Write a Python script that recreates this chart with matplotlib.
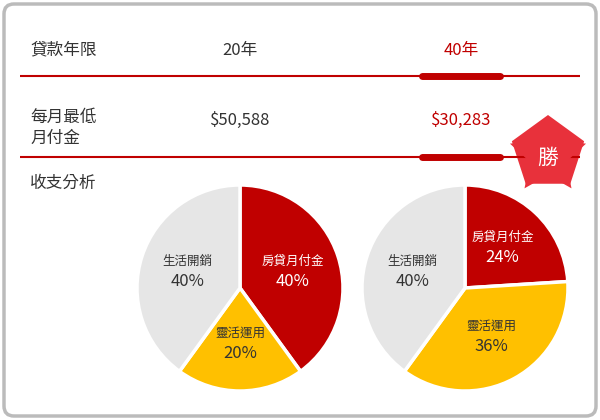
import matplotlib
matplotlib.use("Agg")
import matplotlib.pyplot as plt
from matplotlib.patches import FancyBboxPatch, RegularPolygon
import numpy as np

plt.rcParams["font.family"] = "Noto Sans CJK TC"

row_labels = ["貸款年限", "每月最低\n月付金", "收支分析"]
terms = ["20年", "40年"]
payments = ["$50,588", "$30,283"]
pie_labels = ["房貸月付金", "靈活運用", "生活開銷"]
pie_20 = [40, 20, 40]
pie_40 = [24, 36, 40]
badge = "勝"

RED = "#C00000"
YEL = "#FFC000"
GRY = "#E6E6E6"

fig = plt.figure(figsize=(6, 4.2), dpi=100)
ax = fig.add_axes([0, 0, 1, 1])

def Y(y):
    return 420 - y

ax.add_patch(FancyBboxPatch((4, 4), 592, 412, boxstyle="round,pad=0,rounding_size=10",
                            fc="white", ec="#BBBBBB", lw=2.5))

# rows
ax.text(30, Y(50), row_labels[0], fontsize=12, color="#333333", va="center")
ax.text(30, Y(128), row_labels[1], fontsize=12, color="#333333", va="center", linespacing=1.3)
ax.text(30, Y(183), row_labels[2], fontsize=12, color="#333333", va="center")
ax.text(240, Y(50), terms[0], fontsize=12, color="#333333", va="center", ha="center")
ax.text(461, Y(50), terms[1], fontsize=12, color=RED, va="center", ha="center")
ax.text(240, Y(120), payments[0], fontsize=12, color="#333333", va="center", ha="center")
ax.text(461, Y(120), payments[1], fontsize=12, color=RED, va="center", ha="center")

for yy in (76, 157):
    ax.plot([20, 580], [Y(yy), Y(yy)], color=RED, lw=1.5, solid_capstyle="butt")
    ax.plot([422, 500], [Y(yy), Y(yy)], color=RED, lw=5, solid_capstyle="round")

# star
ax.add_patch(RegularPolygon((548, Y(153)), numVertices=5, radius=38, orientation=0,
                            fc="#E8313B", ec="none"))
ax.add_patch(RegularPolygon((548, Y(153)), numVertices=5, radius=17, orientation=np.pi/5,
                            fc="#E8313B", ec="none"))
star_pts = []
for i in range(10):
    r = 40 if i % 2 == 0 else 19
    a = np.pi/2 + i*np.pi/5
    star_pts.append((548 + r*np.cos(a), Y(156) + r*np.sin(a)))
from matplotlib.patches import Polygon
ax.add_patch(Polygon(star_pts, closed=True, fc="#E8313B", ec="none", zorder=3))
ax.text(548, Y(158), badge, fontsize=15, color="white", ha="center", va="center", zorder=4)

def draw_pie(cx, cy, vals):
    ax.pie(vals, colors=[RED, YEL, GRY], startangle=90, counterclock=False,
           center=(cx, Y(cy)), radius=103, frame=True,
           wedgeprops=dict(edgecolor="white", linewidth=2.5))
    ang = 90
    tcol = ["white", "#333333", "#333333"]
    for v, lab, c in zip(vals, pie_labels, tcol):
        mid = np.deg2rad(ang - v*3.6/2)
        ang -= v*3.6
        r = 55
        x, y = cx + r*np.cos(mid), Y(cy) + r*np.sin(mid)
        ax.text(x, y + 10, lab, fontsize=9, color=c, ha="center", va="center")
        ax.text(x, y - 10, f"{v}%", fontsize=12, color=c, ha="center", va="center")

draw_pie(240, 288, pie_20)
draw_pie(465, 288, pie_40)

ax.set_xlim(0, 600)
ax.set_ylim(0, 420)
ax.axis("off")
fig.savefig("out.png", dpi=100)
